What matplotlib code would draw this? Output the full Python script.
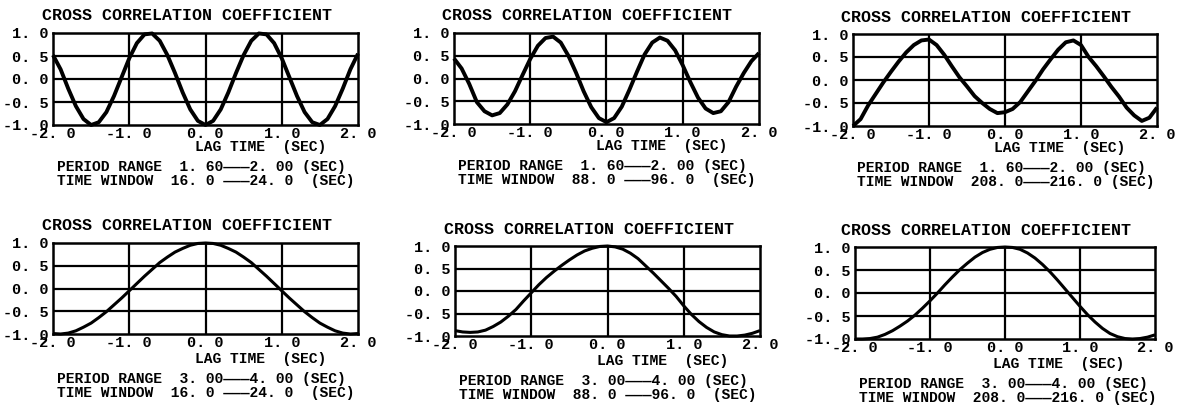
import matplotlib
matplotlib.use("Agg")
import matplotlib.pyplot as plt
import numpy as np

# lag axis, 0.1 s steps
lag = np.linspace(-2.0, 2.0, 41)

# correlation values
cc_a1 = [0.52, 0.21, -0.21, -0.59, -0.87, -1.00, -0.94, -0.72, -0.37, 0.04,
         0.45, 0.78, 0.97, 0.99, 0.83, 0.52, 0.13, -0.29, -0.66, -0.91,
         -1.00,
         -0.91, -0.66, -0.29, 0.13, 0.52, 0.83, 0.99, 0.97, 0.78, 0.45,
         0.04, -0.37, -0.72, -0.94, -1.00, -0.87, -0.59, -0.21, 0.21, 0.55]
cc_a2 = [0.44, 0.22, -0.12, -0.52, -0.72, -0.81, -0.76, -0.57, -0.28, 0.08,
         0.43, 0.72, 0.89, 0.92, 0.79, 0.50, 0.13, -0.28, -0.63, -0.87,
         -0.96,
         -0.87, -0.62, -0.25, 0.15, 0.53, 0.79, 0.90, 0.83, 0.62, 0.29,
         -0.08, -0.42, -0.66, -0.76, -0.72, -0.52, -0.18, 0.12, 0.38, 0.56]
cc_a3 = [-1.00, -0.85, -0.55, -0.30, -0.05, 0.18, 0.40, 0.60, 0.76, 0.86,
         0.88, 0.76, 0.55, 0.30, 0.06, -0.14, -0.35, -0.50, -0.63, -0.72,
         -0.70,
         -0.63, -0.48, -0.25, -0.02, 0.23, 0.45, 0.66, 0.82, 0.86, 0.76,
         0.50, 0.30, 0.08, -0.15, -0.36, -0.60, -0.77, -0.89, -0.82, -0.60]
cc_b1 = [-0.99, -1.00, -0.98, -0.93, -0.85, -0.76, -0.64, -0.51, -0.36, -0.21,
         -0.05, 0.11, 0.27, 0.42, 0.57, 0.69, 0.80, 0.88, 0.95, 0.99,
         1.00,
         0.99, 0.95, 0.88, 0.80, 0.69, 0.57, 0.42, 0.27, 0.11, -0.05,
         -0.21, -0.36, -0.51, -0.64, -0.76, -0.85, -0.93, -0.98, -1.00, -0.99]
cc_b2 = [-0.88, -0.91, -0.92, -0.91, -0.87, -0.79, -0.69, -0.56, -0.41, -0.22,
         -0.04, 0.14, 0.30, 0.44, 0.57, 0.69, 0.80, 0.89, 0.95, 0.99,
         1.00,
         0.98, 0.93, 0.84, 0.72, 0.56, 0.40, 0.23, 0.06, -0.12, -0.33,
         -0.52, -0.68, -0.81, -0.91, -0.97, -1.00, -1.00, -0.98, -0.94, -0.88]
cc_b3 = [-1.00, -1.00, -0.99, -0.96, -0.90, -0.82, -0.72, -0.61, -0.48, -0.33,
         -0.17, 0.00, 0.18, 0.35, 0.51, 0.65, 0.78, 0.88, 0.95, 0.99,
         1.00,
         0.99, 0.95, 0.87, 0.76, 0.62, 0.46, 0.28, 0.09, -0.10, -0.29,
         -0.47, -0.63, -0.77, -0.88, -0.95, -0.99, -1.00, -0.99, -0.96, -0.91]

period_labels = ["1. 60\u2014\u2014\u20142. 00 (SEC)", "3. 00\u2014\u2014\u20144. 00 (SEC)"]
window_labels = ["16. 0 \u2014\u2014\u201424. 0  (SEC)",
                 "88. 0 \u2014\u2014\u201496. 0  (SEC)",
                 "208. 0\u2014\u2014\u2014216. 0 (SEC)"]
x_ticks = [-2.0, -1.0, 0.0, 1.0, 2.0]
x_ticklabels = ["-2. 0", "-1. 0", "0. 0", "1. 0", "2. 0"]
y_ticks = [-1.0, -0.5, 0.0, 0.5, 1.0]
y_ticklabels = ["-1. 0", "-0. 5", "0. 0", "0. 5", "1. 0"]

series = [[cc_a1, cc_a2, cc_a3], [cc_b1, cc_b2, cc_b3]]

# axes boxes in pixels: left, top, right, bottom
boxes = [[(53, 33, 358, 125), (454, 33, 759, 124), (853, 34, 1157, 126)],
         [(53, 243, 358, 334), (455, 246, 760, 336), (855, 247, 1155, 339)]]
# pixel offsets below the box: lag label, caption block centre
offsets = [(22, 49), (25, 52)]

W, H = 1178, 408
FONT = "Liberation Mono"

fig = plt.figure(figsize=(W / 100, H / 100), dpi=100)

for row in range(2):
    for col in range(3):
        l, t, r, b = boxes[row][col]
        ax = fig.add_axes([l / W, 1 - b / H, (r - l) / W, (b - t) / H])
        lw_curve = 2.8 if row == 0 else 2.2
        ax.plot(lag, series[row][col], color="black", lw=lw_curve,
                clip_on=False, solid_capstyle="butt")
        ax.set_xlim(-2, 2)
        ax.set_ylim(-1, 1)
        for xv in [-1.0, 0.0, 1.0]:
            ax.axvline(xv, color="black", lw=1.6)
        for yv in [-0.5, 0.0, 0.5]:
            ax.axhline(yv, color="black", lw=1.6)
        for sp in ax.spines.values():
            sp.set_linewidth(1.8)
        ax.set_xticks(x_ticks)
        ax.set_xticklabels(x_ticklabels, family=FONT, weight="bold", fontsize=11)
        ax.set_yticks(y_ticks)
        ax.set_yticklabels(y_ticklabels, family=FONT, weight="bold", fontsize=11)
        ax.tick_params(length=0, pad=1.5)
        ax.tick_params(axis="y", pad=3)

        h = b - t
        w = r - l
        ax.text(0.5 - 19 / w, 1 + 17 / h, "CROSS CORRELATION COEFFICIENT",
                transform=ax.transAxes, ha="center", va="center",
                family=FONT, weight="bold", fontsize=12)
        ax.text(0.68, -offsets[row][0] / h, "LAG TIME  (SEC)",
                transform=ax.transAxes, ha="center", va="center",
                family=FONT, weight="bold", fontsize=10.5)
        caption = ("PERIOD RANGE  " + period_labels[row] + "\n"
                   + "TIME WINDOW  " + window_labels[col])
        ax.text(4 / w, -offsets[row][1] / h, caption,
                transform=ax.transAxes, ha="left", va="center",
                multialignment="left", linespacing=0.95,
                family=FONT, weight="bold", fontsize=10.5)

fig.savefig("out.png", dpi=100)
